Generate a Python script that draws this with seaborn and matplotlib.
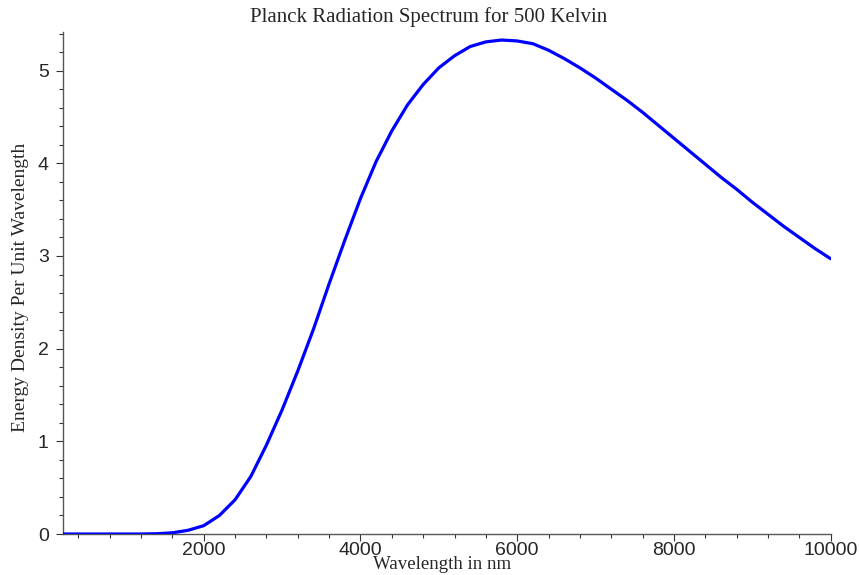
import seaborn as sns
import pandas as pd
import numpy as np
import matplotlib.pyplot as plt
from matplotlib.ticker import MultipleLocator

# wavelength in nm and energy density
wavelength = [200, 600, 1000, 1200, 1400, 1600, 1800, 2000, 2200, 2400,
              2600, 2800, 3000, 3200, 3400, 3600, 3800, 4000, 4200, 4400,
              4600, 4800, 5000, 5200, 5400, 5600, 5800, 6000, 6200, 6400,
              6600, 6800, 7000, 7200, 7400, 7600, 7800, 8000, 8200, 8400,
              8600, 8800, 9000, 9200, 9400, 9600, 9800, 10000]
energy = [0.0, 0.0, 0.0, 0.0, 0.003, 0.013, 0.04, 0.09, 0.20, 0.37,
          0.62, 0.96, 1.34, 1.76, 2.21, 2.70, 3.17, 3.62, 4.02, 4.35,
          4.63, 4.85, 5.03, 5.16, 5.26, 5.31, 5.33, 5.32, 5.29, 5.22,
          5.13, 5.03, 4.92, 4.80, 4.68, 4.55, 4.41, 4.27, 4.13, 3.99,
          3.85, 3.72, 3.58, 3.45, 3.32, 3.20, 3.08, 2.97]

x_ticks = [2000, 4000, 6000, 8000, 10000]
y_ticks = [0, 1, 2, 3, 4, 5]

sns.set_style("ticks")
plt.rcParams['font.family'] = ['Liberation Sans', 'DejaVu Sans']

df = pd.DataFrame({"Wavelength": wavelength, "Energy": energy})

fig = plt.figure(figsize=(8.59, 5.75), dpi=100)
ax = fig.add_axes([0.073, 0.0713, 0.894, 0.8736])

sns.lineplot(data=df, x="Wavelength", y="Energy", ax=ax, color=(0, 0, 1),
             linewidth=2.3, zorder=3)

ax.set_xlim(200, 10000)
ax.set_ylim(0, 5.42)
ax.set_xticks(x_ticks)
ax.set_yticks(y_ticks)
ax.xaxis.set_minor_locator(MultipleLocator(400))
ax.yaxis.set_minor_locator(MultipleLocator(0.2))
ax.tick_params(axis="both", which="major", labelsize=14, length=5,
               width=0.8, color="#333333")
ax.tick_params(axis="x", which="major", pad=1)
ax.tick_params(axis="y", which="major", pad=5)
ax.tick_params(axis="both", which="minor", length=3, width=0.8,
               color="#333333")
ax.set_xlabel("")
ax.set_ylabel("")

for side in ["top", "right"]:
    ax.spines[side].set_visible(False)
for side in ["left", "bottom"]:
    ax.spines[side].set_color("#555555")
    ax.spines[side].set_linewidth(1.0)

fig.text(0.499, 0.970, "Planck Radiation Spectrum for 500 Kelvin",
         ha="center", va="center", fontsize=15, family="Liberation Serif")
fig.text(0.515, 0.018, "Wavelength in nm", ha="center", va="center",
         fontsize=13.6, family="Liberation Serif")
fig.text(0.024, 0.50, "Energy Density Per Unit Wavelength", ha="center",
         va="center", rotation=90, fontsize=14, family="Liberation Serif")

fig.savefig("out.png", dpi=100)
